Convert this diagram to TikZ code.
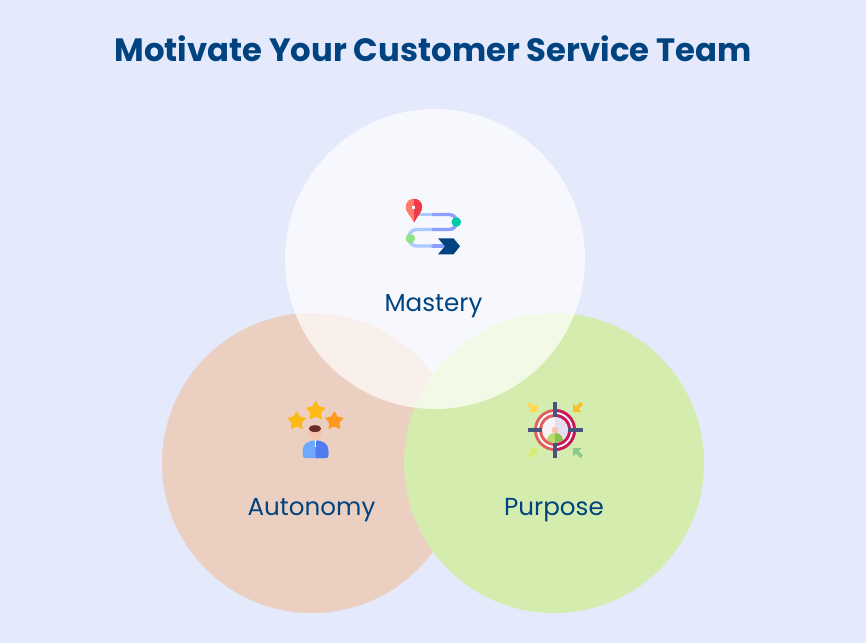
\documentclass[tikz,border=0pt]{standalone}
\usepackage{fontspec}
\setmainfont{Poppins}
\definecolor{bgc}{HTML}{E4E9FB}
\definecolor{autoc}{HTML}{EBD0C1}
\definecolor{purpc}{HTML}{D4ECAE}
\definecolor{ink}{HTML}{004380}
\definecolor{cross}{HTML}{46557A}
\definecolor{routea}{HTML}{A9CBFF}
\definecolor{routeb}{HTML}{8C9EFF}
\definecolor{teal}{HTML}{00C9A7}
\definecolor{mint}{HTML}{8FE388}
\definecolor{pinl}{HTML}{FF7B6B}
\definecolor{pinr}{HTML}{F03A4A}
\definecolor{stara}{HTML}{FFB914}
\definecolor{starb}{HTML}{FF9A1F}
\definecolor{skin}{HTML}{F6C4AE}
\definecolor{hair}{HTML}{6B2E2A}
\definecolor{shirta}{HTML}{6FA8FF}
\definecolor{shirtb}{HTML}{4F7DF0}
\definecolor{ringa}{HTML}{E0605F}
\definecolor{ringb}{HTML}{C8175A}
\definecolor{corea}{HTML}{F7F3F5}
\definecolor{coreb}{HTML}{E6DFF3}
\definecolor{manta}{HTML}{B5DC6C}
\definecolor{mantb}{HTML}{8CC152}
\definecolor{arra}{HTML}{FFD84D}
\definecolor{arrb}{HTML}{F5C02B}
\definecolor{arrc}{HTML}{D6EC74}
\definecolor{arrd}{HTML}{8CCB8C}
\tikzset{
  bubble/.style={circle,minimum size=300pt,inner sep=0pt,draw=none},
  lab/.style={text=ink,font=\fontsize{24.6}{28}\selectfont,inner sep=0pt,anchor=center},
  ttl/.style={text=ink,font=\fontsize{32.3}{36}\selectfont\bfseries,inner sep=0pt,anchor=center},
  route/.style={line width=3.4pt,line cap=round}
}
\newcommand{\fullstar}[4]{%
  \fill[rounded corners=0.6pt,fill=#4] (#1,#2-#3) \foreach \i in {1,...,9}{ -- ({#1+(mod(\i,2)==1?0.55:1)*#3*sin(36*\i)},{#2-(mod(\i,2)==1?0.55:1)*#3*cos(36*\i)})} -- cycle;}
\newcommand{\twodisc}[3]{%
  \fill[#2] (555,430) circle[radius=#1];
  \begin{scope}\clip (555,400) rectangle (590,460);\fill[#3] (555,430) circle[radius=#1];\end{scope}}
\newcommand{\bodyshape}{(305,458) .. controls (303.5,458) and (302.7,457) .. (302.7,455.5) -- (302.7,450) .. controls (302.7,444) and (308,440.5) .. (315.5,440.5) .. controls (323,440.5) and (328.3,444) .. (328.3,450) -- (328.3,455.5) .. controls (328.3,457) and (327.5,458) .. (326,458) -- cycle}
\newcommand{\cornerarrow}[5]{%
  \draw[#5,line width=3.6pt] (#1-#3*4.2,#2-#4*4.2) -- (#1+#3*2.5,#2+#4*2.5);
  \fill[#5] (#1+#3*4.5,#2+#4*4.5) -- (#1-#3*4,#2+#4*4.5) -- (#1-#3*1.2,#2+#4*1.7) -- (#1+#3*1.7,#2-#4*1.2) -- (#1+#3*4.5,#2-#4*4) -- cycle;}
\begin{document}
\begin{tikzpicture}[x=1pt,y=-1pt]
\useasboundingbox (0,0) rectangle (866,643);
\fill[bgc] (0,0) rectangle (866,643);
\node[bubble,fill=autoc] (autonomy) at (312,463) {};
\node[bubble,fill=purpc] (purpose) at (554,463) {};
\node[bubble,fill=white,fill opacity=0.7] (mastery) at (435,259) {};
\node[ttl] (title) at (433,49) {Motivate Your Customer Service Team};
\node[lab] (lm) at (433.5,306) {Mastery};
\node[lab] (la) at (311.5,510) {Autonomy};
\node[lab] (lp) at (554,510) {Purpose};
% route icon
\draw[route,routea] (418,214.5) -- (433,214.5);
\draw[route,routea] (433,229.5) -- (417,229.5) .. controls (406,229.5) and (406,246) .. (417,246) -- (433,246);
\draw[route,routeb] (433,214.5) -- (449,214.5) .. controls (459,214.5) and (459,229.5) .. (449,229.5) -- (433,229.5);
\draw[route,routeb] (433,246) -- (445,246);
\fill[ink] (438,238.3) -- (453.5,238.3) -- (460,246.3) -- (453.5,254.3) -- (438,254.3) -- (445,246.3) -- cycle;
\fill[teal] (456.3,222) circle[radius=4.8];
\fill[mint] (410.3,238.5) circle[radius=4.8];
\fill[pinl] (414,222.5) .. controls (410,215) and (405.7,212) .. (405.7,207) .. controls (405.7,196) and (422.1,196) .. (422.1,207) .. controls (422.1,212) and (418,215) .. (414,222.5) -- cycle;
\fill[pinr] (414,222.5) -- (414,198.8) .. controls (418.5,198.8) and (422.1,202) .. (422.1,207) .. controls (422.1,212) and (418,215) .. (414,222.5) -- cycle;
\fill[white] (412.3,205.5) rectangle (415.3,208.8);
% person with stars
\fullstar{296.7}{421}{10}{stara}
\fullstar{315.7}{411}{10.5}{stara}
\fullstar{334.3}{421}{10}{starb}
\fill[shirta] \bodyshape;
\begin{scope}
\clip (315.5,435) rectangle (330,460);
\fill[shirtb] \bodyshape;
\end{scope}
\fill[skin] (315,432.7) circle[radius=7];
\fill[hair] (315,428.6) ellipse[x radius=6.2,y radius=3.4];
\fill[white] (314.6,439.7) rectangle (316.4,447);
% target
\twodisc{21}{ringa}{ringb}
\fill[white] (555,430) circle[radius=18];
\twodisc{16}{ringa}{ringb}
\twodisc{13}{corea}{coreb}
\begin{scope}
\clip (555,430) circle[radius=13];
\fill[manta] (555,433) .. controls (549,433) and (547,437) .. (546.5,443) -- (555,444) -- cycle;
\fill[mantb] (555,433) .. controls (561,433) and (563,437) .. (563.5,443) -- (555,444) -- cycle;
\end{scope}
\fill[skin] (555,430) circle[radius=3.4];
\draw[cross,line width=3.5pt] (555,402) -- (555,417) (555,443) -- (555,458) (528,430) -- (542,430) (568,430) -- (583,430);
\cornerarrow{532.5}{407.5}{1}{1}{arra}
\cornerarrow{577.5}{407.5}{-1}{1}{arrb}
\cornerarrow{532.5}{452.5}{1}{-1}{arrc}
\cornerarrow{577.5}{452.5}{-1}{-1}{arrd}
\end{tikzpicture}
\end{document}
